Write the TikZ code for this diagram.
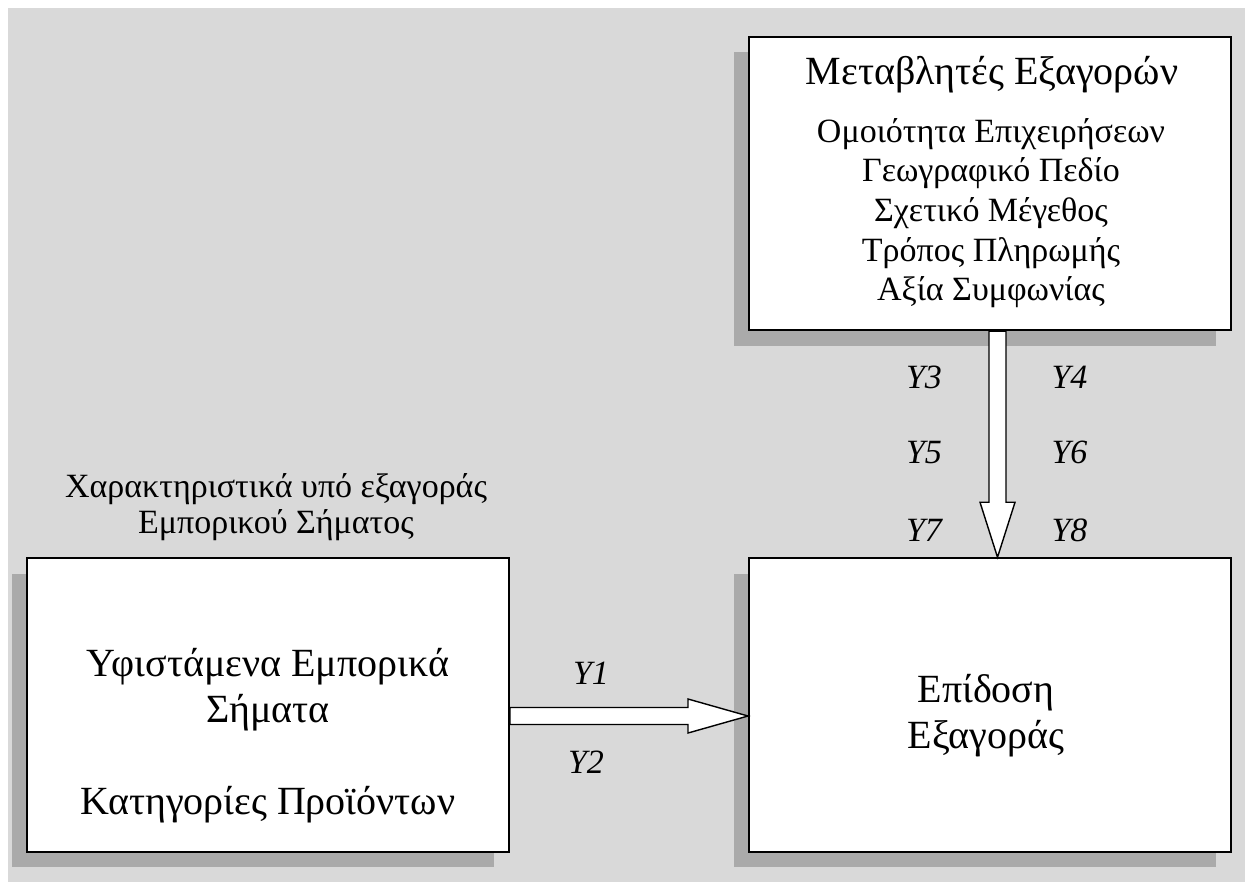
\documentclass[tikz,border=0pt]{standalone}
\usepackage{fontspec}
\setmainfont{Liberation Serif}
\usetikzlibrary{calc}
\usetikzlibrary{positioning}
\usetikzlibrary{shadows}
\definecolor{panelgray}{RGB}{217,217,217}
\definecolor{shadegray}{RGB}{170,170,170}
\tikzset{
    box/.style = {draw,line width=1pt,fill=white,inner sep=0,minimum width=241pt,minimum height=146.75pt,
        general shadow={fill=shadegray,shadow xshift=-7.5pt,shadow yshift=-7.75pt}},
    bigtxt/.style = {align=center,inner sep=0,font=\fontsize{20}{23}\selectfont},
    smalltxt/.style = {align=center,inner sep=0,font=\fontsize{17}{19.8}\selectfont},
    ylabel/.style = {inner sep=0,anchor=base,font=\fontsize{17}{20}\selectfont\itshape},
    fatarrow/.style = {draw,fill=white,line width=0.7pt,line join=miter}
}

\begin{document}
\begin{tikzpicture}[x=0.5pt,y=-0.5pt]
    \useasboundingbox (0,0) rectangle (1245,882);
    \fill[panelgray] (8,8) rectangle (1245,882);
    % Boxes
    \node[box] (brand) at (268,705) {};
    \node[box,right=119pt of brand] (perf) {};
    \node[box,above=113pt of perf] (vars) {};
    % Texts
    \node[smalltxt,anchor=north,font=\fontsize{17}{18}\selectfont] (caption) at (276,473)
        {Χαρακτηριστικά υπό εξαγοράς\\Εμπορικού Σήματος};
    \node[bigtxt,anchor=north] (brandtxt) at (268,648)
        {Υφιστάμενα Εμπορικά\\Σήματα\\[23pt]Κατηγορίες Προϊόντων};
    \node[bigtxt,anchor=north] (perftxt) at (986,674) {Επίδοση\\Εξαγοράς};
    \node[bigtxt,anchor=base] (varstitle) at (992,85) {Μεταβλητές Εξαγορών};
    \node[smalltxt,anchor=north] (varslist) at (991,118)
        {Ομοιότητα Επιχειρήσεων\\Γεωγραφικό Πεδίο\\Σχετικό Μέγεθος\\Τρόπος Πληρωμής\\Αξία Συμφωνίας};
    % Block arrows
    \coordinate (vtip) at ($(perf.north)+(7.5,0)$);
    \draw[fatarrow] (vtip) -- +(-17.5,-55) -- +(-8.5,-55)
        -- ($(vtip |- vars.south)+(-8.5,0)$) -- ($(vtip |- vars.south)+(8.5,0)$)
        -- ($(vtip)+(8.5,-55)$) -- ($(vtip)+(17.5,-55)$) -- cycle;
    \coordinate (htip) at ($(perf.west)+(0,11)$);
    \draw[fatarrow] (htip) -- +(-60,-17) -- +(-60,-8.5)
        -- ($(htip -| brand.east)+(0,-8.5)$) -- ($(htip -| brand.east)+(0,8.5)$)
        -- ($(htip)+(-60,8.5)$) -- ($(htip)+(-60,17)$) -- cycle;
    % Labels
    \foreach \n/\px/\py in {1/591/684,2/586/773,3/924/388,4/1069.5/388,5/924/463,6/1069.5/463,7/924/541,8/1069.5/541}
        \node[ylabel] (y\n) at (\px,\py) {Y\n};
\end{tikzpicture}
\end{document}
